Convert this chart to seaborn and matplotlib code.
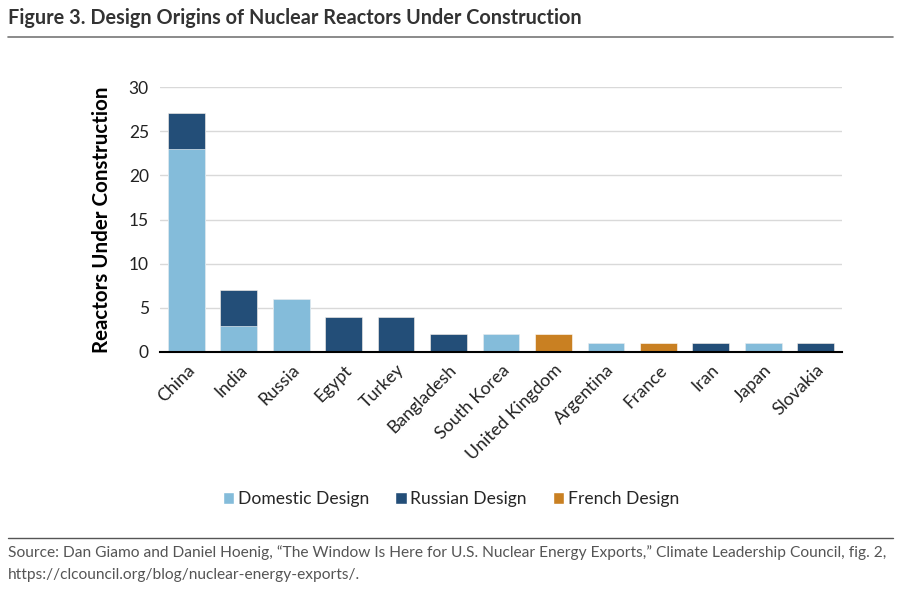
import matplotlib
matplotlib.use("Agg")
import matplotlib.pyplot as plt
import seaborn as sns
import numpy as np
import pandas as pd
from matplotlib.patches import Patch
from matplotlib.lines import Line2D
from matplotlib.ticker import FixedLocator

countries = ["China", "India", "Russia", "Egypt", "Turkey", "Bangladesh", "South Korea",
             "United Kingdom", "Argentina", "France", "Iran", "Japan", "Slovakia"]
domestic = [23, 3, 6, 0, 0, 0, 2, 0, 1, 0, 0, 1, 0]
russian = [4, 4, 0, 4, 4, 2, 0, 0, 0, 0, 1, 0, 1]
french = [0, 0, 0, 0, 0, 0, 0, 2, 0, 1, 0, 0, 0]
series = ["Domestic Design", "Russian Design", "French Design"]
colors = ["#84bcda", "#234e78", "#c98022"]

df = pd.DataFrame({"Country": countries, "Domestic": domestic, "Russian": russian, "French": french})
df["lvl1"] = df["Domestic"]
df["lvl2"] = df["lvl1"] + df["Russian"]
df["lvl3"] = df["lvl2"] + df["French"]

sns.set_style("white")
plt.rcParams["font.family"] = ["Lato", "DejaVu Sans"]

fig = plt.figure(figsize=(9.02, 5.9), dpi=100)
ax = fig.add_axes([160 / 902, 1 - 352 / 590, (842 - 160) / 902, (352 - 87) / 590])

# draw back to front so each layer shows as a stacked segment
for col, c in zip(["lvl3", "lvl2", "lvl1"], colors[::-1]):
    sns.barplot(data=df, x="Country", y=col, order=countries, color=c, width=0.7, saturation=1,
                edgecolor="white", linewidth=0.4, ax=ax)

ax.set_ylim(0, 30)
ax.set_xlim(-0.5, len(countries) - 0.5)
ax.set_yticks([0, 5, 10, 15, 20, 25, 30])
ax.yaxis.grid(True, color="#d9d9d9", linewidth=1)
ax.set_axisbelow(True)
for s in ["top", "right", "left"]:
    ax.spines[s].set_visible(False)
ax.spines["bottom"].set_color("black")
ax.spines["bottom"].set_linewidth(1.5)

ax.set_xlabel("")
ax.set_ylabel("Reactors Under Construction", fontsize=14.8, fontweight="bold", color="black", labelpad=12)
ax.tick_params(axis="y", length=0, labelsize=12.5, colors="#222222", pad=8)
ax.tick_params(axis="x", which="major", length=0, labelsize=12.8, colors="#222222", pad=7)
ax.xaxis.set_minor_locator(FixedLocator(np.arange(-0.5, len(countries), 1)))
ax.tick_params(axis="x", which="minor", length=6, width=1.5, color="black", direction="out")
ax.set_xticks(range(len(countries)))
ax.set_xticklabels(countries, rotation=45, ha="right", rotation_mode="anchor")

handles = [Patch(facecolor=c, label=l) for c, l in zip(colors, series)]
fig.legend(handles=handles, loc="center", bbox_to_anchor=(0.5, 1 - 499 / 590), ncol=3, frameon=False,
           fontsize=12.6, handlelength=0.65, handleheight=0.65, handletextpad=0.2, columnspacing=1.5)

fig.text(8 / 902, 1 - 18 / 590, "Figure 3. Design Origins of Nuclear Reactors Under Construction",
         fontsize=14.3, fontweight="bold", color="#333333", va="center", ha="left")
fig.add_artist(Line2D([8 / 902, 893 / 902], [1 - 37 / 590] * 2, color="#777777", linewidth=1.2))
fig.add_artist(Line2D([8 / 902, 893 / 902], [1 - 538 / 590] * 2, color="#555555", linewidth=1))
fig.text(8 / 902, 1 - 553 / 590,
         "Source: Dan Giamo and Daniel Hoenig, \u201cThe Window Is Here for U.S. Nuclear Energy Exports,\u201d Climate Leadership Council, fig. 2,",
         fontsize=11.2, color="#555555", va="center", ha="left")
fig.text(8 / 902, 1 - 575 / 590, "https://clcouncil.org/blog/nuclear-energy-exports/.",
         fontsize=11.2, color="#555555", va="center", ha="left")

fig.savefig("out.png", dpi=100)
